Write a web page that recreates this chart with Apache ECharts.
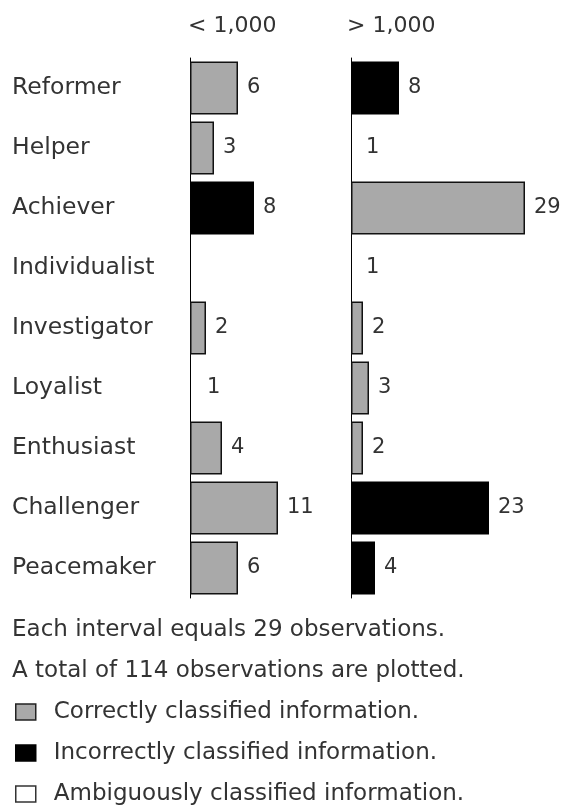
<!DOCTYPE html>
<html>
<head>
<meta charset="utf-8">
<script src="https://cdn.jsdelivr.net/npm/echarts@6/dist/echarts.min.js"></script>
<style>
  html, body { margin: 0; padding: 0; background: #fff; }
  #chart { width: 563px; height: 807px; }
</style>
</head>
<body>
<div id="chart"></div>
<script>
// categories (top to bottom)
const categories = ['Reformer', 'Helper', 'Achiever', 'Individualist', 'Investigator',
  'Loyalist', 'Enthusiast', 'Challenger', 'Peacemaker'];

// < 1,000 panel
const lowValues = [6, 3, 8, null, 2, 1, 4, 11, 6];
const lowClass = ['c', 'c', 'i', null, 'c', 'a', 'c', 'c', 'c'];

// > 1,000 panel
const highValues = [8, 1, 29, 1, 2, 3, 2, 23, 4];
const highClass = ['i', 'a', 'c', 'a', 'c', 'c', 'c', 'i', 'i'];

const panelTitles = ['< 1,000', '> 1,000'];
const notes = ['Each interval equals 29 observations.', 'A total of 114 observations are plotted.'];
const classNames = {
  c: 'Correctly classified information.',
  i: 'Incorrectly classified information.',
  a: 'Ambiguously classified information.'
};

const FONT = 'DejaVu Sans';
const TEXT = '#333';
const GRAY = '#a9a9a9';

// ambiguous bars are blank in the scan, keep them see-through so the axis shows
const styles = {
  c: {color: GRAY, borderColor: '#111', borderWidth: 1.5},
  i: {color: '#000', borderColor: '#000', borderWidth: 1.5},
  a: {color: 'rgba(255,255,255,0)', borderWidth: 0}
};

// one stacked series per class so each bar gets its fill
function panelSeries(values, classes, idx) {
  return ['c', 'i', 'a'].map((k) => ({
    type: 'bar',
    name: classNames[k],
    xAxisIndex: idx,
    yAxisIndex: idx,
    stack: 'p' + idx,
    barWidth: 53,
    itemStyle: styles[k],
    label: {
      show: true,
      position: 'right',
      distance: 9,
      fontFamily: FONT,
      fontSize: 21,
      color: TEXT
    },
    data: values.map((v, i) => (classes[i] === k ? v : null))
  }));
}

const chart = echarts.init(document.getElementById('chart'));

chart.setOption({
  backgroundColor: '#fff',
  animation: false,
  textStyle: {fontFamily: FONT},
  title: [
    {text: panelTitles[0], left: 188, top: 15, padding: 0,
      textStyle: {fontFamily: FONT, fontSize: 22, fontWeight: 'normal', color: TEXT}},
    {text: panelTitles[1], left: 347, top: 15, padding: 0,
      textStyle: {fontFamily: FONT, fontSize: 22, fontWeight: 'normal', color: TEXT}}
  ],
  grid: [
    {left: 190, top: 58, width: 152, height: 540},
    {left: 351, top: 58, width: 186, height: 540}
  ],
  xAxis: [
    {gridIndex: 0, type: 'value', min: 0, max: 19, show: false},
    {gridIndex: 1, type: 'value', min: 0, max: 31, show: false}
  ],
  yAxis: [
    {
      gridIndex: 0, type: 'category', inverse: true, data: categories,
      axisLine: {lineStyle: {color: '#000', width: 1}},
      axisTick: {show: false},
      axisLabel: {align: 'left', margin: 178, fontFamily: FONT, fontSize: 23.5, color: TEXT}
    },
    {
      gridIndex: 1, type: 'category', inverse: true, data: categories,
      axisLine: {lineStyle: {color: '#000', width: 1}},
      axisTick: {show: false},
      axisLabel: {show: false}
    }
  ],
  legend: {
    orient: 'vertical',
    left: 15,
    top: 700,
    padding: 0,
    itemWidth: 20,
    itemHeight: 16,
    itemGap: 17,
    selectedMode: false,
    textStyle: {fontFamily: FONT, fontSize: 23, color: TEXT, lineHeight: 24, padding: [0, 0, 0, 13]},
    data: [
      {name: classNames.c, icon: 'rect', itemStyle: {color: GRAY, borderColor: '#222', borderWidth: 1.5}},
      {name: classNames.i, icon: 'rect', itemStyle: {color: '#000', borderColor: '#000', borderWidth: 1.5}},
      {name: classNames.a, icon: 'rect', itemStyle: {color: '#fff', borderColor: '#333', borderWidth: 1.5}}
    ]
  },
  graphic: notes.map((t, i) => ({
    type: 'text',
    left: 12,
    top: 619 + i * 41,
    style: {text: t, font: '23px "DejaVu Sans"', fill: TEXT}
  })),
  series: [
    ...panelSeries(lowValues, lowClass, 0),
    ...panelSeries(highValues, highClass, 1)
  ]
});
</script>
</body>
</html>
